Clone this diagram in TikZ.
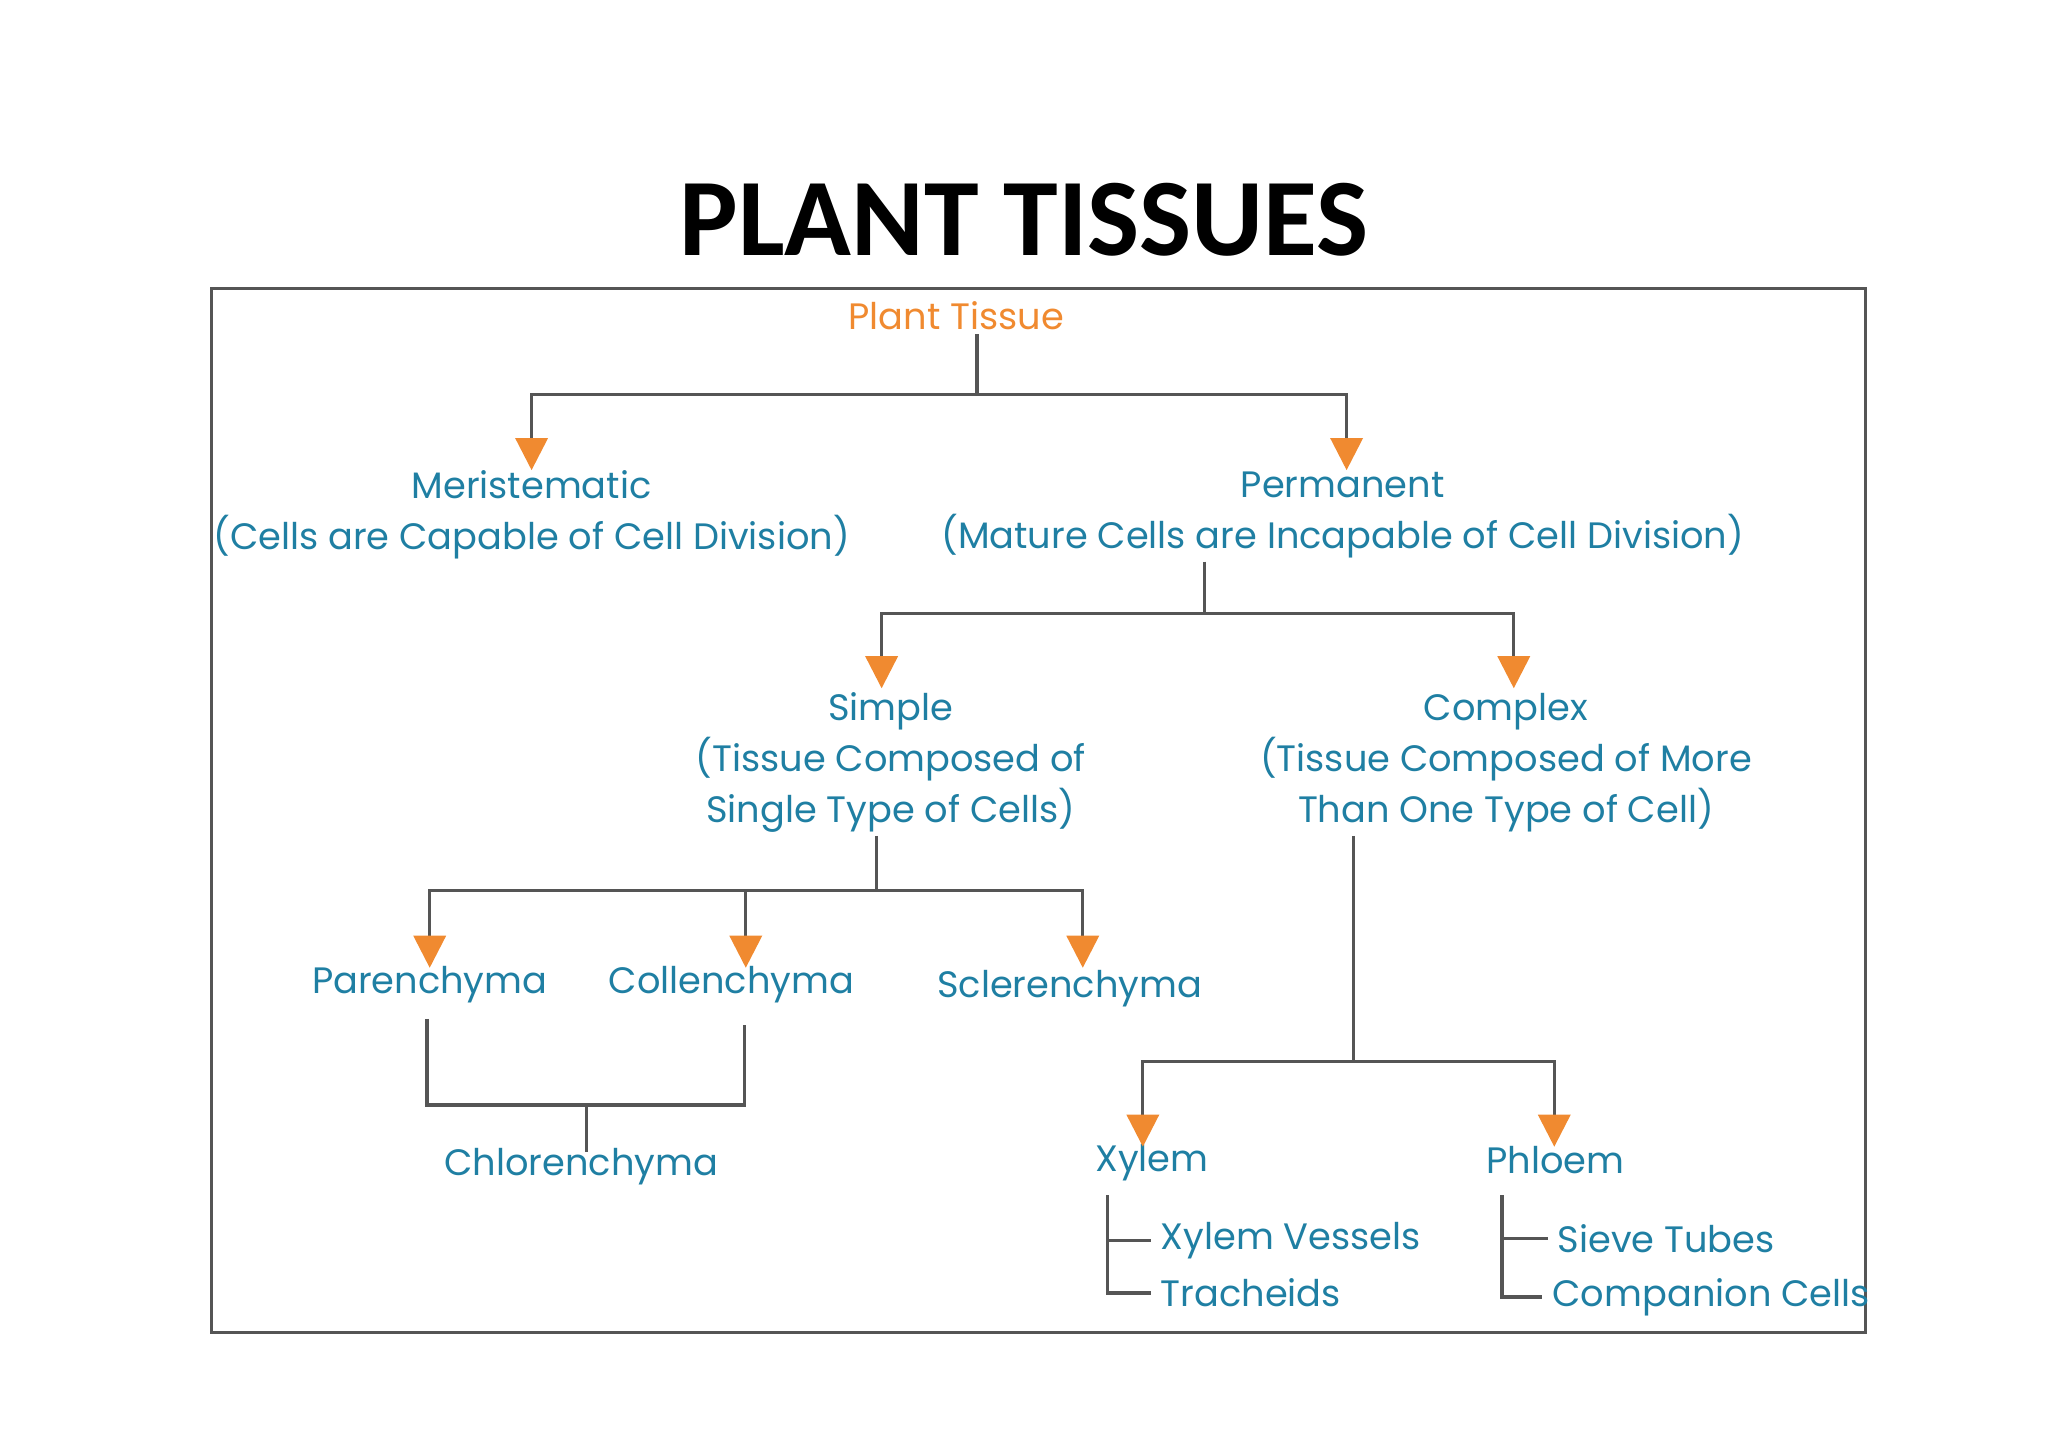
\documentclass[tikz,border=0pt]{standalone}
\usepackage{fontspec}
\setmainfont{Poppins}
\newfontfamily\ttl{Carlito}
\usetikzlibrary{arrows.meta}
\definecolor{tb}{HTML}{1F7FA3}
\definecolor{or}{HTML}{F08A30}
\definecolor{ln}{HTML}{555555}
\begin{document}
\begin{tikzpicture}[x=0.01cm,y=-0.01cm,
  t/.style={text=tb,font=\fontsize{8}{11.1}\selectfont,align=center,inner sep=0pt},
  tl/.style={t,anchor=west},
  c/.style={draw=ln,line width=0.7pt},
  a/.style={c,-{Triangle[color=or,length=7pt,width=7pt]}}]
\useasboundingbox (0,0) rectangle (1568,1107);
\node[font=\ttl\bfseries\fontsize{24}{28}\selectfont] (title) at (784,168) {PLANT TISSUES};
\draw[ln,line width=0.7pt] (162,221) rectangle (1428,1020);
\node[t,text=or] (pt) at (732,242) {Plant Tissue};
\node[t] (mer) at (407,394) {Meristematic\\(Cells are Capable of Cell Division)};
\node[t] (per) at (1028,394) {Permanent\\(Mature Cells are Incapable of Cell Division)};
\node[t] (sim) at (682,584) {Simple\\(Tissue Composed of\\Single Type of Cells)};
\node[t] (com) at (1153,584) {Complex\\(Tissue Composed of More\\Than One Type of Cell)};
\node[t] (par) at (329,754) {Parenchyma};
\node[t] (col) at (560,754) {Collenchyma};
\node[t] (scl) at (819,757) {Sclerenchyma};
\node[t] (chl) at (445,893) {Chlorenchyma};
\node[t] (xyl) at (882,890) {Xylem};
\node[t] (phl) at (1191,888) {Phloem};
\node[tl] (xv) at (888,950) {Xylem Vessels};
\node[tl] (tr) at (888,990) {Tracheids};
\node[tl] (st) at (1192,948) {Sieve Tubes};
\node[tl] (cc) at (1188,993) {Companion Cells};
% connectors
\coordinate (j1) at (748,302);
\draw[c] (748,256) -- (j1);
\draw[a] (j1) -| (407,360);
\draw[a] (j1) -| (1031,360);
\coordinate (j2) at (922,470);
\draw[c] (922,430) -- (j2);
\draw[a] (j2) -| (675,527);
\draw[a] (j2) -| (1159,527);
\coordinate (j3) at (671,682);
\draw[c] (671,640) -- (j3);
\draw[a] (j3) -| (329,741);
\draw[a] (571,682) -- (571,741);
\draw[a] (j3) -| (829,741);
\coordinate (j4) at (449,846);
\draw[c] (327,780) |- (570,846) -- (570,785);
\draw[c] (j4) -- (449,882);
\coordinate (j5) at (1036,813);
\draw[c] (1036,640) -- (j5);
\draw[a] (j5) -| (875,878);
\draw[a] (j5) -| (1190,878);
\draw[c] (848,915) |- ([xshift=-2pt]xv.west);
\draw[c] (848,950) |- ([xshift=-2pt]tr.west);
\draw[c] (1150,915) |- ([xshift=-2pt]st.west);
\draw[c] (1150,948) |- ([xshift=-2pt]cc.west);
\end{tikzpicture}
\end{document}
